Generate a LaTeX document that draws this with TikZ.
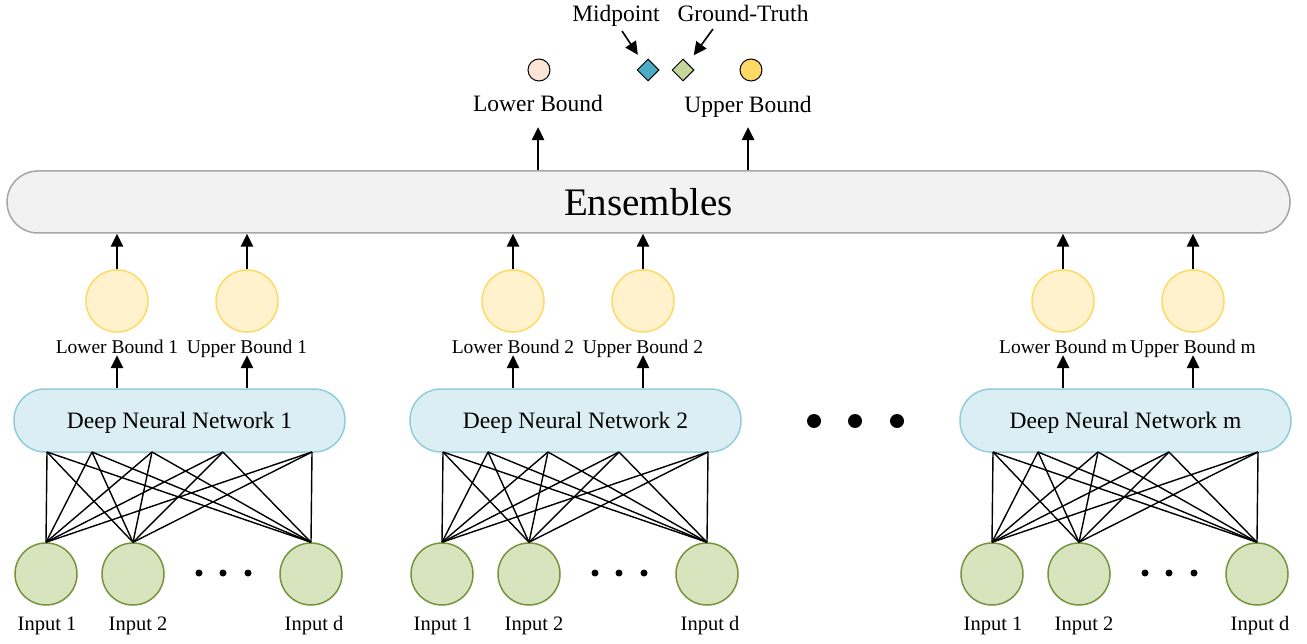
\documentclass[tikz,border=0pt]{standalone}
\usepackage{fontspec}
\setmainfont{Liberation Serif}
\usetikzlibrary{arrows.meta,shapes.geometric}
\definecolor{ensfill}{HTML}{F2F2F2}
\definecolor{ensdraw}{HTML}{A6A6A6}
\definecolor{dnnfill}{HTML}{DAEEF3}
\definecolor{dnndraw}{HTML}{92CDDC}
\definecolor{outfill}{HTML}{FFF2CC}
\definecolor{outdraw}{HTML}{FFD966}
\definecolor{infill}{HTML}{D7E4BD}
\definecolor{indraw}{HTML}{77933C}
\definecolor{lbfill}{HTML}{FBE5D6}
\definecolor{ubfill}{HTML}{FFD966}
\definecolor{midfill}{HTML}{4BACC6}
\definecolor{gtfill}{HTML}{C3D69B}
\begin{document}
\begin{tikzpicture}[x=1pt,y=-1pt,
  ens/.style={draw=ensdraw, fill=ensfill, line width=1.5pt, rounded corners=31pt,
    minimum width=1283pt, minimum height=62pt, inner sep=0pt,
    font=\fontsize{39}{39}\selectfont},
  dnn/.style={draw=dnndraw, fill=dnnfill, line width=1.5pt, rounded corners=31pt,
    minimum width=331pt, minimum height=63pt, inner sep=0pt, text depth=0pt,
    font=\fontsize{23.5}{23.5}\selectfont},
  outc/.style={circle, draw=outdraw, fill=outfill, line width=1.5pt, minimum size=62pt, inner sep=0pt},
  inc/.style={circle, draw=indraw, fill=infill, line width=1.5pt, minimum size=62pt, inner sep=0pt},
  toplab/.style={anchor=base, inner sep=2pt, text depth=0pt, font=\fontsize{23.5}{23.5}\selectfont},
  slab/.style={anchor=base, inner sep=2pt, text depth=0pt, font=\fontsize{19.5}{19.5}\selectfont},
  inlab/.style={anchor=base, inner sep=2pt, font=\fontsize{20.5}{20.5}\selectfont},
  arr/.style={-{Triangle[length=13pt,width=12.5pt]}, line width=1.6pt},
  net/.style={line width=1.4pt},
  mark1/.style={draw=black, line width=1pt, minimum size=22pt, inner sep=0pt},
]
\useasboundingbox (0,0) rectangle (1307,644);

% Ensembles
\node[ens] (ens) at (648.5,202) {Ensembles};

% top legend
\node[toplab] (lbl) at (538,112) {Lower Bound};
\node[toplab] (ubl) at (748,113) {Upper Bound};
\draw[arr, shorten >=13pt] (ens.north -| lbl) -- (lbl.south);
\draw[arr, shorten >=12pt] (ens.north -| ubl) -- (ubl.south);
\node[mark1, circle, fill=lbfill] (lbc) at (539,70) {};
\node[mark1, circle, fill=ubfill] (ubc) at (751,70) {};
\node[mark1, diamond, aspect=1, fill=midfill] (dmid) at (648,70) {};
\node[mark1, diamond, aspect=1, fill=gtfill] (dgt) at (683,70) {};
\node[toplab] (midl) at (616,22) {Midpoint};
\node[toplab] (gtl) at (743,22) {Ground-Truth};
\coordinate (ma) at (622,31);
\coordinate (ga) at (713,29);
\draw[arr, shorten >=10pt] (ma) -- (dmid);
\draw[arr, shorten >=10pt] (ga) -- (dgt);

% big dots between networks
\fill (814,421) circle (7pt);
\fill (855,421) circle (7pt);
\fill (897,421) circle (7pt);

% network groups
\foreach \o/\n/\k in {0/1/a, 396/2/b, 946/m/c}{
  \node[dnn] (dnn\k) at (179.5+\o,420.5) {Deep Neural Network \n};
  \coordinate (p\k1) at (47+\o,452);
  \coordinate (p\k2) at (92+\o,452);
  \coordinate (p\k3) at (152+\o,452);
  \coordinate (p\k4) at (223+\o,452);
  \coordinate (p\k5) at (312+\o,452);
  \node[inc] (i\k1) at (46+\o,574) {};
  \node[inc] (i\k2) at (133+\o,574) {};
  \node[inc] (i\k3) at (311+\o,574) {};
  \foreach \j in {1,...,5}{
    \foreach \t in {1,2,3}{
      \draw[net] (p\k\j) -- (i\k\t.north);
    }
  }
  \fill (199+\o,573) circle (3.5pt);
  \fill (223+\o,573) circle (3.5pt);
  \fill (248+\o,573) circle (3.5pt);
  \node[inlab] (il\k1) at (47+\o,630) {Input 1};
  \node[inlab] (il\k2) at (138+\o,630) {Input 2};
  \node[inlab] (il\k3) at (314+\o,630) {Input d};
  \node[outc] (lo\k) at (117+\o,301) {};
  \node[outc] (uo\k) at (247+\o,301) {};
  \node[slab] (lol\k) at (117+\o,353) {Lower Bound \n};
  \node[slab] (uol\k) at (247+\o,353) {Upper Bound \n};
  \draw[arr] (dnn\k.north -| lol\k) -- (lol\k.south);
  \draw[arr] (dnn\k.north -| uol\k) -- (uol\k.south);
  \draw[arr] (lo\k.north) -- (lo\k |- ens.south);
  \draw[arr] (uo\k.north) -- (uo\k |- ens.south);
}
\end{tikzpicture}
\end{document}
